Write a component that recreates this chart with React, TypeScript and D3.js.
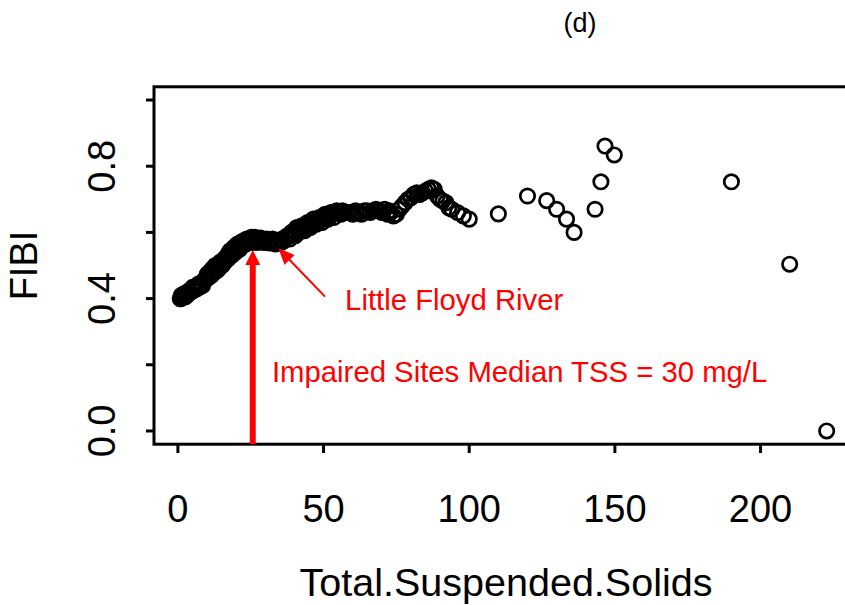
import React, { useEffect } from "react";
import * as d3 from "d3";

const tss: number[] = [
  1, 1.5, 2, 2.5, 3, 3.5, 4, 5, 5.5, 6, 7, 7.5, 8, 9, 10, 10, 10.5, 11, 12, 12, 12.5, 13, 14, 14,
  15, 15.5, 16, 16, 17, 18, 18, 19, 20, 20, 21, 22, 22, 23, 24, 25, 26, 27, 28, 29, 30, 31,
  32, 33, 34, 35, 36, 37, 38, 39, 40, 41, 42, 43, 44, 44, 45, 46, 47, 48, 49, 50, 51, 52, 53,
  54, 55, 56, 57, 58, 60, 62, 64, 66, 67, 68, 70, 72, 73, 74, 75, 76, 77, 78, 79, 80, 81, 82,
  83, 84, 85, 86, 87, 88, 89, 90, 91, 92, 93, 94, 96, 98, 100,
  0.8, 1.2, 2.2, 3.2, 4.5, 5.2, 6.5, 7.2, 8.5, 9.5, 10.2, 11.5, 11.8,
  12.8, 13.5, 14.5, 15.2, 16.5, 17.2, 17.6, 18.5, 19.3, 19.8, 20.5, 21.3, 21.6, 22.5, 23.3, 23.6, 24.5, 25.2,
  25.6, 26.5, 27.3, 28.4, 29.5, 30.5, 31.4, 32.5, 33.5, 34.5, 35.5, 36.4, 37.5, 38.4, 39.5, 40.3,
  40.8, 41.5, 42.5, 43.5, 44.5, 45.5, 46.5, 47.5, 48.5, 49.5, 50.5, 51.5, 52.5, 53.5, 54.5,
  56.5, 59, 61, 63, 65, 69, 71, 72.5,
  110, 120, 126.6, 130, 133.4, 136, 143.2, 145.2, 146.6, 149.8, 190, 210, 222.7,
];
const fibi: number[] = [
  0.40, 0.405, 0.41, 0.405, 0.415, 0.42, 0.425, 0.43, 0.425, 0.435, 0.44, 0.435, 0.445, 0.455, 0.47, 0.46, 0.465, 0.48, 0.485, 0.475, 0.49, 0.495, 0.50, 0.49,
  0.51, 0.515, 0.52, 0.51, 0.53, 0.535, 0.545, 0.545, 0.55, 0.56, 0.555, 0.56, 0.57, 0.57, 0.575, 0.578, 0.58, 0.577, 0.575, 0.578, 0.575, 0.572,
  0.575, 0.57, 0.575, 0.578, 0.58, 0.585, 0.59, 0.60, 0.605, 0.61, 0.605, 0.615, 0.62, 0.61, 0.625, 0.63, 0.635, 0.63, 0.64, 0.645, 0.65, 0.65, 0.655,
  0.66, 0.66, 0.655, 0.66, 0.66, 0.655, 0.66, 0.665, 0.66, 0.665, 0.67, 0.66, 0.655, 0.66, 0.65, 0.655, 0.67, 0.68, 0.69, 0.70, 0.705, 0.715, 0.72,
  0.715, 0.72, 0.725, 0.73, 0.735, 0.73, 0.71, 0.70, 0.695, 0.69, 0.675, 0.67, 0.66, 0.65, 0.64,
  0.40, 0.41, 0.415, 0.41, 0.42, 0.435, 0.43, 0.445, 0.44, 0.46, 0.475, 0.47, 0.49,
  0.50, 0.485, 0.51, 0.50, 0.525, 0.52, 0.54, 0.53, 0.555, 0.54, 0.565, 0.55, 0.57, 0.575, 0.565, 0.58, 0.57, 0.585,
  0.57, 0.585, 0.57, 0.583, 0.57, 0.58, 0.568, 0.58, 0.565, 0.568, 0.57, 0.575, 0.59, 0.58, 0.595, 0.59,
  0.615, 0.60, 0.62, 0.605, 0.63, 0.615, 0.64, 0.625, 0.645, 0.63, 0.655, 0.64, 0.66, 0.645, 0.665,
  0.665, 0.66, 0.665, 0.655, 0.665, 0.665, 0.67, 0.665,
  0.656, 0.71, 0.696, 0.67, 0.64, 0.60, 0.67, 0.753, 0.861, 0.834, 0.753, 0.504, 0.0,
];

const xTicks: number[] = [0, 50, 100, 150, 200];
const yTicks: number[] = [0, 0.2, 0.4, 0.6, 0.8, 1.0];
const yLabelTicks: number[] = [0, 0.4, 0.8];
const xDomain: [number, number] = [-8.2, 231.6];
const yDomain: [number, number] = [-0.04, 1.04];

const medianTSS = 25.7;
const medianArrowTop = 0.547;
const floydArrowFrom: [number, number] = [50.5, 0.406];
const floydArrowTo: [number, number] = [34.5, 0.552];
const floydLabel: [number, number] = [57.4, 0.366];
const medianLabel: [number, number] = [32.3, 0.149];

const FONT = "'Liberation Sans', Arial, Helvetica, sans-serif";

export default function App() {
  useEffect(() => {
    document.body.style.margin = "0";
  }, []);
  const W = 845;
  const H = 605;
  const x = d3.scaleLinear().domain(xDomain).range([154, 852.6]);
  const y = d3.scaleLinear().domain(yDomain).range([444.2, 86.8]);
  const pts = tss.map((t, i) => ({ t, f: fibi[i] }));

  const arrowHead = (x1: number, y1: number, x2: number, y2: number, len: number, half: number) => {
    const a = Math.atan2(y2 - y1, x2 - x1);
    const bx = x2 - len * Math.cos(a);
    const by = y2 - len * Math.sin(a);
    const px = -Math.sin(a) * half;
    const py = Math.cos(a) * half;
    return `M${x2},${y2}L${bx + px},${by + py}L${bx - px},${by - py}Z`;
  };

  const vx = x(medianTSS);
  const vTop = y(medianArrowTop);
  const vBot = y(yDomain[0]);
  const fx1 = x(floydArrowFrom[0]);
  const fy1 = y(floydArrowFrom[1]);
  const fx2 = x(floydArrowTo[0]);
  const fy2 = y(floydArrowTo[1]);
  const fa = Math.atan2(fy2 - fy1, fx2 - fx1);

  return (
    <svg width={W} height={H} style={{ position: "absolute", left: 0, top: 0, background: "#fff" }} fontFamily={FONT}>
      <rect x={0} y={0} width={W} height={H} fill="#fff" />
      <text x={580} y={32} fontSize={27} textAnchor="middle" fill="#000">(d)</text>
      {/* points */}
      <g fill="none" stroke="#000" strokeWidth={2.7}>
        {pts.map((p, i) => (
          <circle key={i} cx={x(p.t)} cy={y(p.f)} r={7.2} />
        ))}
      </g>
      {/* box */}
      <rect x={154} y={86.8} width={852.6 - 154} height={444.2 - 86.8} fill="none" stroke="#000" strokeWidth={3} />
      {/* y axis ticks */}
      <g stroke="#000" strokeWidth={3}>
        {yTicks.map((t) => (
          <line key={t} x1={146} x2={154} y1={y(t)} y2={y(t)} />
        ))}
      </g>
      {yLabelTicks.map((t) => (
        <text key={t} transform={`translate(115,${y(t)}) rotate(-90)`} fontSize={38} textAnchor="middle" fill="#000">
          {d3.format(".1f")(t)}
        </text>
      ))}
      <text transform={`translate(37,${(86.8 + 444.2) / 2}) rotate(-90)`} fontSize={38} textAnchor="middle" fill="#000">FIBI</text>
      {/* x axis ticks */}
      <g stroke="#000" strokeWidth={3}>
        {xTicks.map((t) => (
          <line key={t} x1={x(t)} x2={x(t)} y1={444.2} y2={453} />
        ))}
      </g>
      {xTicks.map((t) => (
        <text key={t} x={x(t)} y={522} fontSize={38} textAnchor="middle" fill="#000">{t}</text>
      ))}
      <text x={506} y={596} fontSize={39.5} textAnchor="middle" fill="#000">Total.Suspended.Solids</text>
      {/* red annotations */}
      <line x1={vx} x2={vx} y1={vBot} y2={vTop + 12} stroke="#ff0000" strokeWidth={6} />
      <path d={arrowHead(vx, vBot, vx, vTop, 15, 7.5)} fill="#ff0000" />
      <line x1={fx1} y1={fy1} x2={fx2 - 10 * Math.cos(fa)} y2={fy2 - 10 * Math.sin(fa)} stroke="#ff0000" strokeWidth={2} />
      <path d={arrowHead(fx1, fy1, fx2, fy2, 16, 7)} fill="#ff0000" />
      <text x={x(floydLabel[0])} y={y(floydLabel[1])} fontSize={29.3} fill="#ff0000">Little Floyd River</text>
      <text x={x(medianLabel[0])} y={y(medianLabel[1])} fontSize={29.3} fill="#ff0000">Impaired Sites Median TSS = 30 mg/L</text>
    </svg>
  );
}
